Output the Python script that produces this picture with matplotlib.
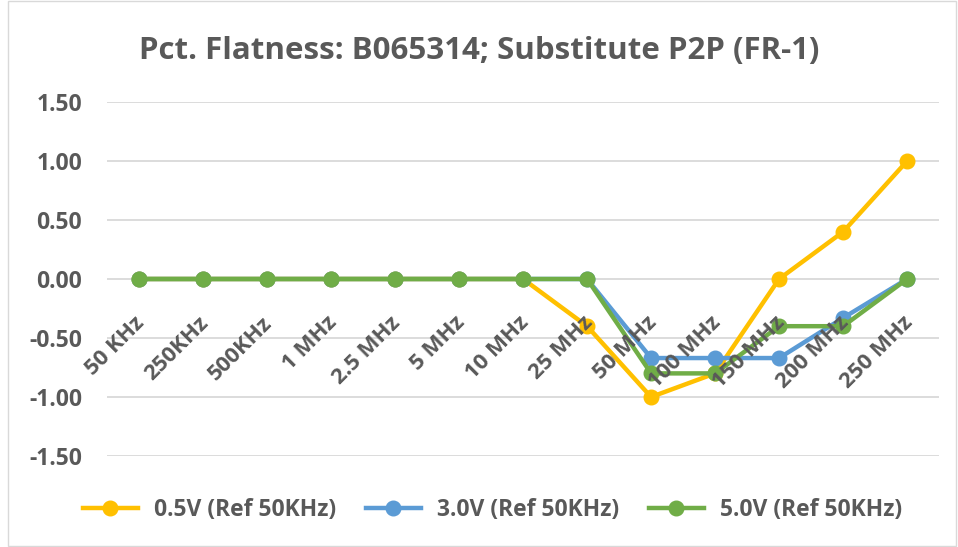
import matplotlib
matplotlib.use('Agg')
import matplotlib.pyplot as plt
import matplotlib.transforms as mtransforms
from matplotlib.patches import Rectangle

# categories and series (pct. flatness)
freqs = ['50 KHz', '250KHz', '500KHz', '1 MHz', '2.5 MHz', '5 MHz', '10 MHz',
         '25 MHz', '50 MHz', '100 MHz', '150 MHz', '200 MHz', '250 MHz']
v05 = [0, 0, 0, 0, 0, 0, 0, -0.4, -1.0, -0.8, 0.0, 0.4, 1.0]
v30 = [0, 0, 0, 0, 0, 0, 0, 0, -0.67, -0.67, -0.67, -0.33, 0.0]
v50 = [0, 0, 0, 0, 0, 0, 0, 0, -0.8, -0.8, -0.4, -0.4, 0.0]
labels = ['0.5V (Ref 50KHz)', '3.0V (Ref 50KHz)', '5.0V (Ref 50KHz)']
colors = ['#FFC000', '#5B9BD5', '#70AD47']
yticks = [-1.5, -1.0, -0.5, 0.0, 0.5, 1.0, 1.5]

plt.rcParams['font.family'] = ['Open Sans', 'DejaVu Sans']
txt = '#595959'

fig = plt.figure(figsize=(9.58, 5.47), dpi=100)
ax = fig.add_axes([0.1117, 0.1664, 0.8686, 0.6471])

x = list(range(len(freqs)))
for vals, lab, col in zip([v05, v30, v50], labels, colors):
    ax.plot(x, vals, color=col, lw=3.2, marker='o', ms=10.5, label=lab,
            solid_joinstyle='round', zorder=3)

ax.set_xlim(-0.5, len(freqs) - 0.5)
ax.set_ylim(-1.5, 1.5)
ax.set_yticks(yticks)
ax.set_yticklabels(['%.2f' % t for t in yticks], fontsize=16.5, fontweight='bold', color=txt)
ax.yaxis.grid(True, color='#D9D9D9', lw=1.3)
ax.set_axisbelow(True)

# category axis crosses at zero, labels drawn over the lines
ax.spines['bottom'].set_position(('data', 0))
for s in ['top', 'right', 'left', 'bottom']:
    ax.spines[s].set_visible(False)
ax.set_xticks(x)
ax.set_xticklabels(freqs, rotation=45, ha='right', va='top', rotation_mode='anchor',
                   fontsize=16, fontweight='bold', color=txt)
ax.tick_params(axis='both', length=0)
ax.tick_params(axis='x', pad=24)
ax.tick_params(axis='y', pad=18)
ax.xaxis.set_zorder(4)
shift = mtransforms.ScaledTranslation(-5 / 100, 0, fig.dpi_scale_trans)
for t in ax.get_xticklabels():
    t.set_transform(t.get_transform() + shift)

fig.text(0.5, 0.907, 'Pct. Flatness: B065314; Substitute P2P (FR-1)', ha='center', va='center',
         fontsize=22.5, fontweight='bold', color=txt)

leg = fig.legend(loc='center', bbox_to_anchor=(0.514, 0.068), ncol=3, frameon=False,
                 prop={'size': 16.5, 'weight': 'bold'}, handlelength=2.4,
                 handletextpad=0.7, columnspacing=1.3)
for t in leg.get_texts():
    t.set_color(txt)

fig.patches.append(Rectangle((0.008, 0.002), 0.99, 0.996, transform=fig.transFigure,
                             fill=False, edgecolor='#D9D9D9', lw=1))

fig.savefig('out.png', dpi=100)
